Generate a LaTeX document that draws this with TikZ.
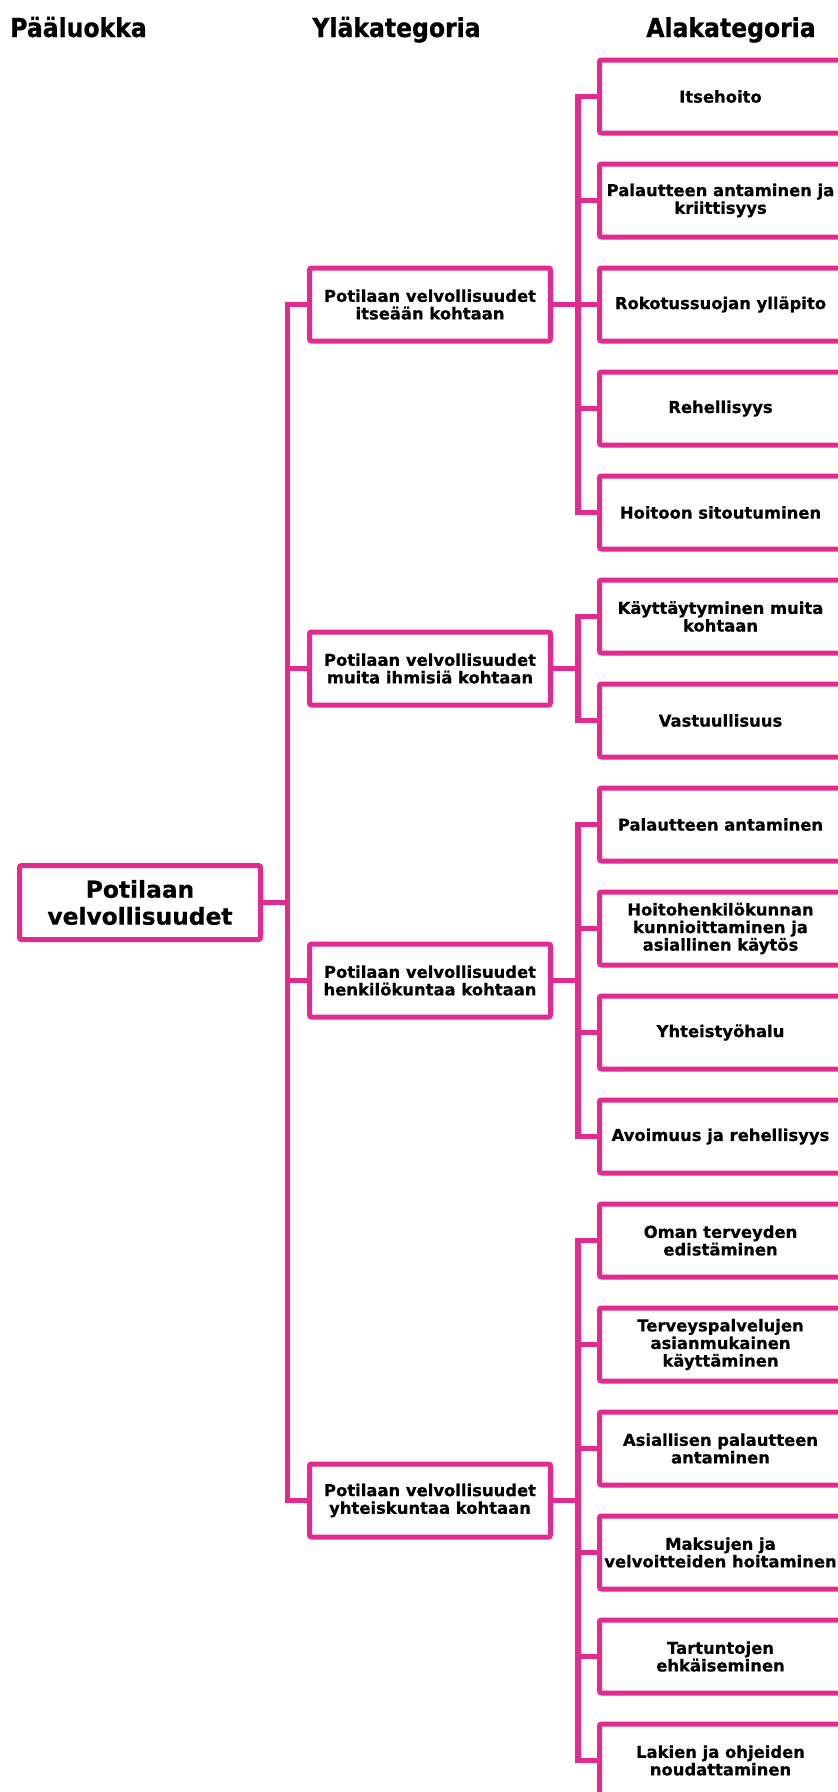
\documentclass[tikz,border=0pt]{standalone}
\usepackage{fontspec}
\setmainfont{DejaVu Sans}[BoldFeatures={FakeBold=0.6}]
\newfontfamily\headfont[FakeStretch=0.9,BoldFeatures={FakeBold=0.8}]{DejaVu Sans}
\usepackage{tikz}
\definecolor{velpink}{RGB}{225,43,145}

\begin{document}
\begin{tikzpicture}[x=0.75pt,y=-0.75pt,
  head/.style={anchor=base,font=\headfont\bfseries\fontsize{19.6pt}{22pt}\selectfont},
  box/.style={draw=velpink,line width=3.75pt,rounded corners=1.5pt,align=center,inner sep=2pt,
    font=\bfseries\fontsize{12.3pt}{13.2pt}\selectfont},
  mainbox/.style={box,minimum width=180.75pt,minimum height=55.5pt,
    font=\bfseries\fontsize{17.5pt}{20.2pt}\selectfont},
  topicbox/.style={box,minimum width=180.75pt,minimum height=54.75pt},
  subbox/.style={box,minimum width=181.5pt,minimum height=54.75pt},
  link/.style={draw=velpink,line width=4pt}]
\useasboundingbox (0,0) rectangle (838,1792);
\clip (0,0) rectangle (838,1792);

% column headings
\node[head] (h_main) at (78.5,37) {Pääluokka};
\node[head] (h_top) at (396.5,37) {Yläkategoria};
\node[head] (h_sub) at (731,37) {Alakategoria};

% main class
\node[mainbox] (main) at (140,902.5) {Potilaan\\velvollisuudet};

% upper categories
\node[topicbox] (self) at (430,304.5) {Potilaan velvollisuudet\\itseään kohtaan};
\node[topicbox] (others) at (430,668.5) {Potilaan velvollisuudet\\muita ihmisiä kohtaan};
\node[topicbox] (staff) at (430,980.5) {Potilaan velvollisuudet\\henkilökuntaa kohtaan};
\node[topicbox] (society) at (430,1500.5) {Potilaan velvollisuudet\\yhteiskuntaa kohtaan};

% subcategories, 104 apart
\node[subbox] (s1) at (720.5,96.5) {Itsehoito};
\node[subbox] (s2) at (720.5,200.5) {Palautteen antaminen ja\\kriittisyys};
\node[subbox] (s3) at (720.5,304.5) {Rokotussuojan ylläpito};
\node[subbox] (s4) at (720.5,408.5) {Rehellisyys};
\node[subbox] (s5) at (720.5,512.5) {Hoitoon sitoutuminen};

\node[subbox] (o1) at (720.5,616.5) {Käyttäytyminen muita\\kohtaan};
\node[subbox] (o2) at (720.5,720.5) {Vastuullisuus};

\node[subbox] (p1) at (720.5,824.5) {Palautteen antaminen};
\node[subbox] (p2) at (720.5,928.5) {Hoitohenkilökunnan\\kunnioittaminen ja\\asiallinen käytös};
\node[subbox] (p3) at (720.5,1032.5) {Yhteistyöhalu};
\node[subbox] (p4) at (720.5,1136.5) {Avoimuus ja rehellisyys};

\node[subbox] (y1) at (720.5,1240.5) {Oman terveyden\\edistäminen};
\node[subbox] (y2) at (720.5,1344.5) {Terveyspalvelujen\\asianmukainen\\käyttäminen};
\node[subbox] (y3) at (720.5,1448.5) {Asiallisen palautteen\\antaminen};
\node[subbox] (y4) at (720.5,1552.5) {Maksujen ja\\velvoitteiden hoitaminen};
\node[subbox] (y5) at (720.5,1656.5) {Tartuntojen\\ehkäiseminen};
\node[subbox] (y6) at (720.5,1760.5) {Lakien ja ohjeiden\\noudattaminen};

% main class to upper categories
\draw[link] (main.east) -- ++(24.5,0) |- (self.west);
\draw[link] (main.east) -- ++(24.5,0) |- (others.west);
\draw[link] (main.east) -- ++(24.5,0) |- (staff.west);
\draw[link] (main.east) -- ++(24.5,0) |- (society.west);

% upper categories to subcategories
\draw[link] (self.east) -- ++(25,0) |- (s1.west);
\draw[link] (self.east) -- ++(25,0) |- (s2.west);
\draw[link] (self.east) -- ++(25,0) |- (s3.west);
\draw[link] (self.east) -- ++(25,0) |- (s4.west);
\draw[link] (self.east) -- ++(25,0) |- (s5.west);

\draw[link] (others.east) -- ++(25,0) |- (o1.west);
\draw[link] (others.east) -- ++(25,0) |- (o2.west);

\draw[link] (staff.east) -- ++(25,0) |- (p1.west);
\draw[link] (staff.east) -- ++(25,0) |- (p2.west);
\draw[link] (staff.east) -- ++(25,0) |- (p3.west);
\draw[link] (staff.east) -- ++(25,0) |- (p4.west);

\draw[link] (society.east) -- ++(25,0) |- (y1.west);
\draw[link] (society.east) -- ++(25,0) |- (y2.west);
\draw[link] (society.east) -- ++(25,0) |- (y3.west);
\draw[link] (society.east) -- ++(25,0) |- (y4.west);
\draw[link] (society.east) -- ++(25,0) |- (y5.west);
\draw[link] (society.east) -- ++(25,0) |- (y6.west);
\end{tikzpicture}
\end{document}
